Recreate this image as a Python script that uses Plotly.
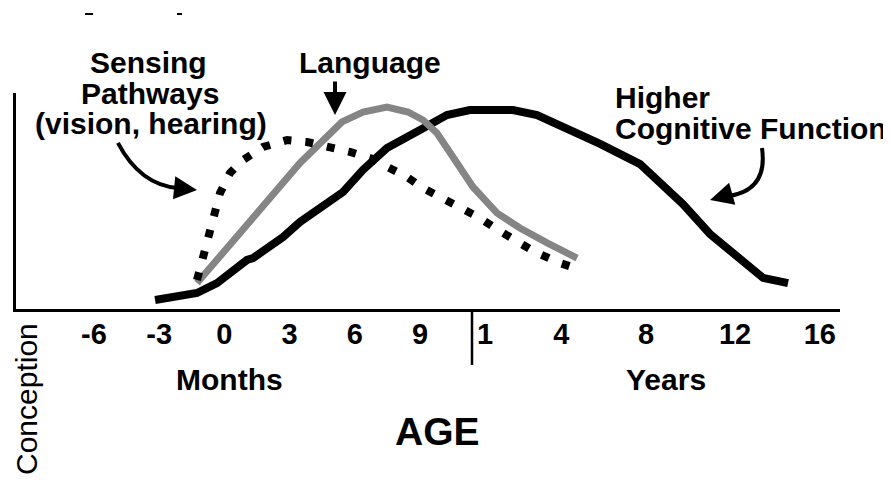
import plotly.graph_objects as go

# Age axis: months around birth, then years (positions are in month units)
tick_labels = ['-6', '-3', '0', '3', '6', '9', '1', '4', '8', '12', '16']
tick_pos = [-6, -3, 0, 3, 6, 9, 12, 15.5, 19.4, 23.5, 27.4]

# Sensing pathways (vision, hearing) - dotted black
sensing_x = [-1.26, -0.98, -0.80, -0.52, -0.20, 0.26, 0.86, 1.78, 2.88, 3.80, 4.86, 5.78,
             6.70, 7.48, 8.40, 9.14, 10.06, 10.93, 11.76, 12.59, 13.46, 14.29, 15.44, 16.13]
sensing_y = [13.4, 24.1, 33.3, 42.6, 53.7, 63.0, 69.0, 75.0, 78.2, 77.3, 75.0, 72.7,
             69.9, 65.7, 61.1, 56.0, 51.4, 46.8, 42.1, 36.6, 31.0, 26.4, 21.3, 19.0]

# Language - grey
language_x = [-1.26, 3.48, 5.41, 6.38, 7.48, 8.45, 9.14, 9.78, 10.52, 11.44, 12.55, 13.60, 14.85, 16.23]
language_y = [12.0, 67.6, 86.6, 91.2, 93.5, 91.2, 87.5, 81.5, 70.4, 56.5, 44.4, 37.5, 30.6, 23.6]

# Higher cognitive function - solid black
higher_x = [-3.19, -1.26, -0.34, 1.04, 1.32, 2.70, 3.48, 5.46, 6.38, 7.48, 9.00, 10.24,
            11.30, 13.28, 14.39, 15.90, 17.29, 19.13, 21.10, 22.35, 24.79, 25.94]
higher_y = [4.2, 7.4, 12.0, 22.7, 23.6, 33.3, 40.3, 54.2, 64.4, 74.5, 82.9, 89.8,
            92.1, 92.1, 89.8, 82.9, 76.4, 67.1, 48.6, 34.7, 14.4, 12.0]

FONT = 'Liberation Sans, Arial, sans-serif'

fig = go.Figure()

fig.add_trace(go.Scatter(x=higher_x, y=higher_y, mode='lines',
                         line=dict(color='black', width=8), name='Higher Cognitive Function'))
fig.add_trace(go.Scatter(x=language_x, y=language_y, mode='lines',
                         line=dict(color='#858585', width=7), name='Language'))
fig.add_trace(go.Scatter(x=sensing_x, y=sensing_y, mode='lines',
                         line=dict(color='black', width=8, dash='8px,14px'), name='Sensing Pathways'))


def label(text, x, y, size=30, xanchor='center', bold=True, angle=0):
    # text labels live in paper coords so they can sit outside the axes
    return dict(text=text, x=x, y=y, xref='paper', yref='paper', showarrow=False,
                xanchor=xanchor, yanchor='middle', textangle=angle,
                font=dict(family=FONT, size=size, color='black',
                          weight='bold' if bold else 'normal'))


def arrow_head(x, y, ax, ay):
    return dict(text='', x=x, y=y, xref='x', yref='y', ax=ax, ay=ay,
                showarrow=True, arrowhead=2, arrowwidth=4, arrowsize=1.15, arrowcolor='black')


annotations = [
    label('Sensing', 0.1614, 1.1407),
    label('Pathways', 0.1626, 0.9972),
    label('(vision, hearing)', 0.1638, 0.8583),
    label('Language', 0.4296, 1.1407),
    label('Higher', 0.7245, 0.9810, xanchor='left'),
    label('Cognitive Function', 0.7245, 0.8352, xanchor='left'),
    label('Months', 0.2597, -0.3269),
    label('Years', 0.7888, -0.3269),
    label('AGE', 0.5121, -0.5671, size=39),
    label('Conception', 0.0121, -0.4167, size=30, bold=False, angle=-90),
    arrow_head(5.09, 89.8, 0, -35),
    arrow_head(-1.26, 55.1, -20, -2),
    arrow_head(22.35, 50.5, 18, -5),
]

shapes = [
    # curved shafts of the callout arrows
    dict(type='path', xref='x', yref='y', path='M -4.90,76.9 Q -3.88,57.4 -2.14,56.0',
         line=dict(color='black', width=4)),
    dict(type='path', xref='x', yref='y', path='M 24.74,74.5 Q 25.02,55.1 23.22,52.3',
         line=dict(color='black', width=4)),
    # months / years divider
    dict(type='line', xref='paper', yref='paper', x0=0.5534, x1=0.5534, y0=-0.005, y1=-0.259,
         line=dict(color='black', width=2.5)),
    # cropped title remnants at the top
    dict(type='line', xref='paper', yref='paper', x0=0.0837, x1=0.0934, y0=1.3657, y1=1.3657,
         line=dict(color='black', width=2)),
    dict(type='line', xref='paper', yref='paper', x0=0.1954, x1=0.2015, y0=1.3657, y1=1.3657,
         line=dict(color='black', width=2)),
]

# the page body adds an 8px margin, so the figure is 8px smaller and shifted
fig.update_layout(
    width=883, height=476,
    margin=dict(l=8, r=51, t=85, b=175),
    plot_bgcolor='white', paper_bgcolor='white',
    showlegend=False,
    annotations=annotations,
    shapes=shapes,
    xaxis=dict(range=[-9.59, 28.33], tickvals=tick_pos, ticktext=tick_labels,
               showline=True, linecolor='black', linewidth=3, showgrid=False,
               zeroline=False, ticks='', ticklabelstandoff=-3,
               tickfont=dict(family=FONT, size=29, color='black', weight='bold')),
    yaxis=dict(range=[0, 100], showline=True, linecolor='black', linewidth=3,
               showgrid=False, zeroline=False, showticklabels=False, ticks=''),
)

fig.write_html("out.html")
